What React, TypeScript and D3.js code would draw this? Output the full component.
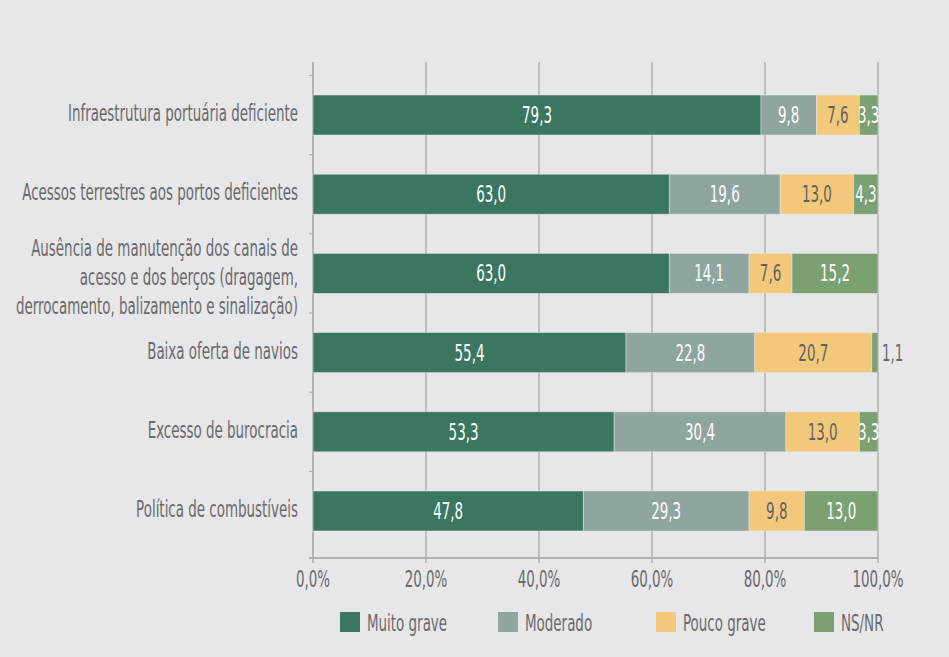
import React from "react";
import * as d3 from "d3";

const categories = [
  "Infraestrutura portuária deficiente",
  "Acessos terrestres aos portos deficientes",
  "Ausência de manutenção dos canais de|acesso e dos berços (dragagem,|derrocamento, balizamento e sinalização)",
  "Baixa oferta de navios",
  "Excesso de burocracia",
  "Política de combustíveis",
];
const seriesNames = ["Muito grave", "Moderado", "Pouco grave", "NS/NR"];
const muitoGrave = [79.3, 63.0, 63.0, 55.4, 53.3, 47.8];
const moderado = [9.8, 19.6, 14.1, 22.8, 30.4, 29.3];
const poucoGrave = [7.6, 13.0, 7.6, 20.7, 13.0, 9.8];
const nsnr = [3.3, 4.3, 15.2, 1.1, 3.3, 13.0];
const xTicks = [0, 0.2, 0.4, 0.6, 0.8, 1];

const colors = ["#3b7760", "#8fa59f", "#f2c97a", "#7ba173"];
const labelColors = ["#ffffff", "#ffffff", "#5f6065", "#ffffff"];

const W = 949;
const H = 657;
const plotLeft = 313;
const plotRight = 878;
const plotTop = 62;
const plotBottom = 558;
const FONT = "'Liberation Sans Narrow', 'DejaVu Sans Condensed', sans-serif";
const SX = 0.65;
const textGray = "#6a6a6d";
const gridColor = "#b0b0b3";

const comma = (v: number) => d3.format(".1f")(v).replace(".", ",");

function Txt(props: {
  x: number;
  y: number;
  anchor?: string;
  fill?: string;
  size?: number;
  children: React.ReactNode;
}) {
  return (
    <g transform={`translate(${props.x},${props.y}) scale(${SX},1)`}>
      <text
        textAnchor={props.anchor ?? "start"}
        fill={props.fill ?? textGray}
        fontSize={props.size ?? 23}
        fontFamily={FONT}
      >
        {props.children}
      </text>
    </g>
  );
}

export default function App() {
  const rows = categories.map((c, i) => ({
    cat: c,
    [seriesNames[0]]: muitoGrave[i],
    [seriesNames[1]]: moderado[i],
    [seriesNames[2]]: poucoGrave[i],
    [seriesNames[3]]: nsnr[i],
  }));
  const raw: Record<string, number[]> = {
    [seriesNames[0]]: muitoGrave,
    [seriesNames[1]]: moderado,
    [seriesNames[2]]: poucoGrave,
    [seriesNames[3]]: nsnr,
  };

  const stacked = d3
    .stack<any>()
    .keys(seriesNames)
    .offset(d3.stackOffsetExpand)(rows);

  const x = d3.scaleLinear().domain([0, 1]).range([plotLeft, plotRight]);
  const y = d3
    .scaleBand<string>()
    .domain(categories)
    .range([plotTop, plotBottom])
    .paddingInner(0.495)
    .paddingOuter(0.379)
    .align(0.55);
  const bw = y.bandwidth();
  const gap = y.step() - bw;

  return (
    <svg
      width={W}
      height={H}
      style={{ position: "absolute", left: 0, top: 0, display: "block" }}
    >
      <defs>
        <clipPath id="plotClip">
          <rect x={plotLeft} y={plotTop} width={plotRight - plotLeft + 1} height={plotBottom - plotTop} />
        </clipPath>
      </defs>
      <rect x={0} y={0} width={W} height={H} fill="#e7e7e9" />

      {/* gridlines */}
      {xTicks.map((t) => (
        <line
          key={"g" + t}
          x1={x(t)}
          x2={x(t)}
          y1={plotTop}
          y2={plotBottom + 5}
          stroke={gridColor}
          strokeWidth={1.5}
        />
      ))}
      {/* left axis */}
      <line x1={plotLeft} x2={plotLeft} y1={plotTop} y2={plotBottom + 5} stroke={gridColor} strokeWidth={1.5} />
      {categories.map((c) => (
        <line
          key={"yt" + c}
          x1={plotLeft - 4}
          x2={plotLeft}
          y1={(y(c) ?? 0) - gap / 2}
          y2={(y(c) ?? 0) - gap / 2}
          stroke={gridColor}
          strokeWidth={1.2}
        />
      ))}
      <line x1={plotLeft - 4} x2={plotRight} y1={plotBottom} y2={plotBottom} stroke={gridColor} strokeWidth={2} />

      {/* bars */}
      {stacked.map((s, si) => (
        <g key={s.key}>
          {s.map((d, i) => {
            const cat = categories[i];
            const x0 = x(d[0]);
            const x1 = x(d[1]);
            const yy = y(cat) ?? 0;
            return (
              <rect
                key={cat}
                x={x0}
                y={yy}
                width={x1 - x0}
                height={bw}
                fill={colors[si]}
                stroke="#e7e7e9"
                strokeOpacity={0.6}
                strokeWidth={0.8}
              />
            );
          })}
        </g>
      ))}

      {/* value labels */}
      {stacked.map((s, si) => (
        <g key={"lab" + s.key}>
          {s.map((d, i) => {
            const cat = categories[i];
            const x0 = x(d[0]);
            const x1 = x(d[1]);
            const yy = (y(cat) ?? 0) + bw / 2 + 8;
            const v = raw[s.key][i];
            return x1 - x0 > 12 ? (
              <g key={cat} clipPath="url(#plotClip)">
                <Txt x={(x0 + x1) / 2} y={yy} anchor="middle" fill={labelColors[si]}>
                  {comma(v)}
                </Txt>
              </g>
            ) : (
              <Txt key={cat} x={x1 + 4} y={yy} anchor="start">
                {comma(v)}
              </Txt>
            );
          })}
        </g>
      ))}

      {/* category labels */}
      {categories.map((c) => {
        const lines = c.split("|");
        const cy = (y(c) ?? 0) + bw / 2;
        const n = lines.length;
        return (
          <g key={"cl" + c}>
            {lines.map((ln, li) => (
              <Txt
                key={li}
                x={298}
                y={cy + 6 + (li - (n - 1) / 2) * 29 + (n - 1) * 3}
                anchor="end"
              >
                {ln}
              </Txt>
            ))}
          </g>
        );
      })}

      {/* x tick labels */}
      {xTicks.map((t) => (
        <Txt key={"xl" + t} x={x(t)} y={587} anchor="middle">
          {d3.format(".1f")(t * 100).replace(".", ",") + "%"}
        </Txt>
      ))}

      {/* legend */}
      {seriesNames.map((s, i) => {
        const lx = 340 + i * 158;
        return (
          <g key={"lg" + s}>
            <rect x={lx} y={612} width={20} height={20} fill={colors[i]} />
            <Txt x={lx + 27} y={631}>{s}</Txt>
          </g>
        );
      })}
    </svg>
  );
}
